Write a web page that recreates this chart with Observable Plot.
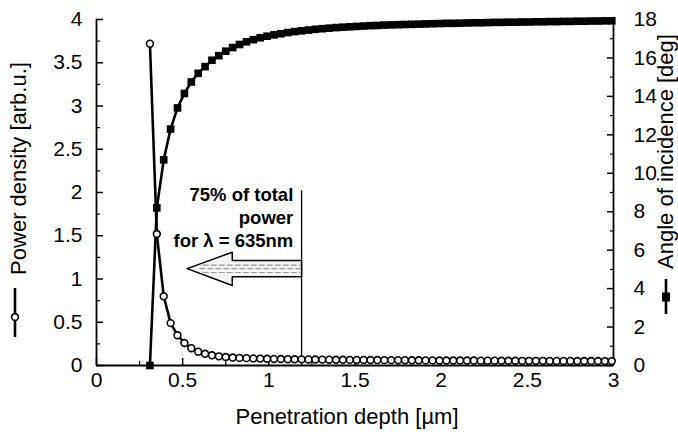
<!DOCTYPE html>
<html>
<head>
<meta charset="utf-8">
<script src="https://cdn.jsdelivr.net/npm/d3@7"></script>
<script src="https://cdn.jsdelivr.net/npm/@observablehq/plot@0.6"></script>
<style>
  html, body { margin: 0; padding: 0; background: #fff; }
  #chart svg { display: block; }
</style>
</head>
<body>
<div id="chart"></div>
<script>
// Penetration depth [µm]
const depth = [0.31,0.35,0.39,0.43,0.47,0.51,0.55,0.59,0.63,0.67,0.71,0.75,0.79,0.83,0.87,0.91,0.95,0.99,
  1.03,1.07,1.11,1.15,1.19,1.23,1.27,1.31,1.35,1.39,1.43,1.47,1.51,1.55,1.59,1.63,1.67,1.71,1.75,1.79,1.83,1.87,
  1.91,1.95,1.99,2.03,2.07,2.11,2.15,2.19,2.23,2.27,2.31,2.35,2.39,2.43,2.47,2.51,2.55,2.59,2.63,2.67,2.71,2.75,
  2.79,2.83,2.87,2.91,2.95,2.99];
// Power density [arb.u.] (open circles, left axis)
const powerDensity = [3.72,1.52,0.80,0.49,0.35,0.26,0.20,0.16,0.135,0.118,0.106,0.098,0.092,0.088,0.085,0.082,0.080,0.078,
  0.076,0.075,0.073,0.072,0.071,0.070,0.069,0.068,0.067,0.066,0.066,0.065,0.064,0.064,0.063,0.063,0.062,0.062,0.061,0.061,0.060,0.060,
  0.059,0.059,0.058,0.058,0.058,0.057,0.057,0.057,0.056,0.056,0.056,0.055,0.055,0.055,0.054,0.054,0.054,0.054,0.053,0.053,0.053,0.053,
  0.052,0.052,0.052,0.052,0.051,0.051];
// Angle of incidence [deg] (filled squares, right axis)
const angleDeg = [0,8.2,10.7,12.3,13.4,14.15,14.75,15.2,15.55,15.88,16.12,16.35,16.54,16.7,16.84,16.95,17.05,17.13,
  17.2,17.26,17.32,17.37,17.41,17.45,17.49,17.52,17.55,17.58,17.6,17.62,17.64,17.66,17.68,17.69,17.71,17.72,17.73,17.74,17.75,17.76,
  17.77,17.78,17.79,17.8,17.8,17.81,17.82,17.83,17.83,17.84,17.85,17.85,17.86,17.86,17.87,17.87,17.88,17.88,17.89,17.89,17.9,17.9,
  17.91,17.91,17.92,17.92,17.93,17.93];

const xTicks = [0, 0.5, 1, 1.5, 2, 2.5, 3];
const xMinor = [0.25, 0.75, 1.25, 1.75, 2.25, 2.75];
const yTicks = [0, 0.5, 1, 1.5, 2, 2.5, 3, 3.5, 4];
const yMinor = [0.25, 0.75, 1.25, 1.75, 2.25, 2.75, 3.25, 3.75];
const angleTicks = [0, 2, 4, 6, 8, 10, 12, 14, 16, 18];
const angleMinor = [1, 3, 5, 7, 9, 11, 13, 15, 17];
const angleMax = 18, powerMax = 4;
const toLeft = a => a * powerMax / angleMax;

// annotation: 75% power marker and hollow arrow (in data units)
const markerDepth = 1.19;
const annotationText = "75% of total\npower\nfor λ = 635nm";
const arrowShape = [
  {x: 0.526, y: 1.12}, {x: 0.788, y: 1.31}, {x: 0.788, y: 1.214}, {x: 1.19, y: 1.214},
  {x: 1.19, y: 1.026}, {x: 0.788, y: 1.026}, {x: 0.788, y: 0.925}, {x: 0.526, y: 1.12}
];
const arrowHatch = [
  [{x: 0.62, y: 1.16}, {x: 1.18, y: 1.16}],
  [{x: 0.60, y: 1.12}, {x: 1.18, y: 1.12}],
  [{x: 0.62, y: 1.075}, {x: 1.18, y: 1.075}]
];

const power = depth.map((x, i) => ({x, y: powerDensity[i]}));
const angle = depth.map((x, i) => ({x, a: angleDeg[i]}));

const font = "'Liberation Sans', Arial, Helvetica, sans-serif";
const blank = () => "";

const chart = Plot.plot({
  width: 678,
  height: 442,
  marginLeft: 96,
  marginRight: 65,
  marginTop: 19,
  marginBottom: 77,
  style: {fontFamily: font, fontSize: "21px", background: "#fff", color: "#000", overflow: "visible"},
  x: {domain: [0, 3]},
  y: {domain: [0, 4]},
  marks: [
    // inward ticks
    Plot.axisX({ticks: xTicks, tickSize: 7, dy: -7, tickFormat: blank, label: null, strokeWidth: 1.5}),
    Plot.axisX({ticks: xMinor, tickSize: 4, dy: -4, tickFormat: blank, label: null, strokeWidth: 1.2}),
    Plot.axisX({ticks: xTicks, tickSize: 0, tickPadding: 7, label: null, tickFormat: d => String(d), fontSize: 21}),
    Plot.axisY({ticks: yTicks, tickSize: 7, dx: 7, tickFormat: blank, label: null, strokeWidth: 1.5}),
    Plot.axisY({ticks: yMinor, tickSize: 4, dx: 4, tickFormat: blank, label: null, strokeWidth: 1.2}),
    Plot.axisY({ticks: yTicks, tickSize: 0, tickPadding: 14, label: null, tickFormat: d => String(d), fontSize: 21}),
    Plot.axisY({anchor: "right", ticks: angleTicks.map(toLeft), tickSize: 7, dx: -7, tickFormat: blank, label: null, strokeWidth: 1.5}),
    Plot.axisY({anchor: "right", ticks: angleMinor.map(toLeft), tickSize: 4, dx: -4, tickFormat: blank, label: null, strokeWidth: 1.2}),
    Plot.axisY({anchor: "right", ticks: angleTicks.map(toLeft), tickSize: 0, tickPadding: 20, label: null,
      tickFormat: d => String(Math.round(d * angleMax / powerMax)), fontSize: 21}),
    // frame (left, bottom, right)
    Plot.ruleX([0, 3], {strokeWidth: 1.8}),
    Plot.ruleY([0], {strokeWidth: 1.8}),
    // annotation
    Plot.ruleX([markerDepth], {y1: 0, y2: 2.02, strokeWidth: 1.3}),
    Plot.line(arrowShape, {x: "x", y: "y", stroke: "#000", strokeWidth: 1.5, fill: "#f4f4f4"}),
    ...arrowHatch.map(seg => Plot.line(seg, {x: "x", y: "y", stroke: "#9a9a9a", strokeWidth: 1.2, strokeDasharray: "5,3"})),
    Plot.text([annotationText], {x: 1.142, y: 1.72, textAnchor: "end", lineAnchor: "middle", lineHeight: 1.25,
      fontWeight: "bold", fontSize: 18.5}),
    // data
    Plot.line(angle, {x: "x", y: d => toLeft(d.a), stroke: "#000", strokeWidth: 2.6}),
    Plot.line(power, {x: "x", y: "y", stroke: "#000", strokeWidth: 2.6}),
    Plot.dot(angle, {x: "x", y: d => toLeft(d.a), symbol: "square", r: 4.3, fill: "#000", stroke: "none"}),
    Plot.dot(power, {x: "x", y: "y", r: 3.4, fill: "#fff", stroke: "#000", strokeWidth: 1.6}),
    // axis titles
    Plot.text(["Penetration depth [µm]"], {frameAnchor: "bottom", dy: 51, dx: -8, fontSize: 22,
      textAnchor: "middle", lineAnchor: "middle"}),
    Plot.text(["Power density [arb.u.]"], {frameAnchor: "left", rotate: -90, dx: -78, dy: -24, fontSize: 22,
      textAnchor: "middle", lineAnchor: "middle"}),
    Plot.text(["Angle of incidence [deg]"], {frameAnchor: "right", rotate: -90, dx: 52, dy: -41, fontSize: 22,
      textAnchor: "middle", lineAnchor: "middle"})
  ]
});

document.getElementById("chart").appendChild(chart);

// legend glyphs next to the axis titles
const svg = d3.select(chart);
const gl = svg.append("g").attr("stroke", "#000");
gl.append("line").attr("x1", 15).attr("x2", 15).attr("y1", 288).attr("y2", 337).attr("stroke-width", 2.6);
gl.append("circle").attr("cx", 15).attr("cy", 317).attr("r", 3.4).attr("fill", "#fff").attr("stroke-width", 1.6);
gl.append("line").attr("x1", 666).attr("x2", 666).attr("y1", 279).attr("y2", 314).attr("stroke-width", 2.6);
gl.append("rect").attr("x", 662.5).attr("y", 293).attr("width", 7).attr("height", 8).attr("fill", "#000");
</script>
</body>
</html>
